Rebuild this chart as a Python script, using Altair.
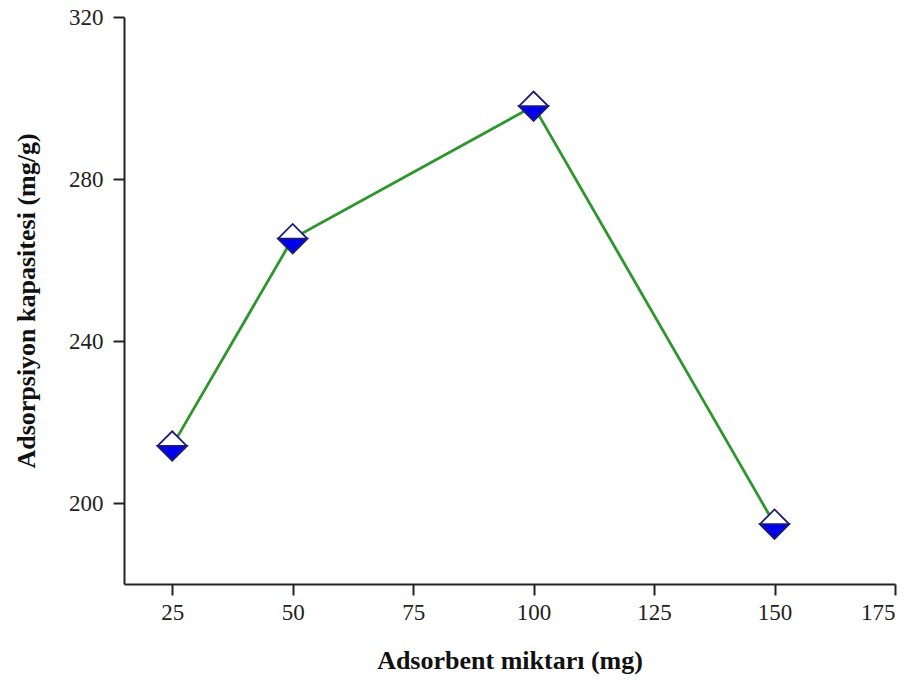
import altair as alt
import pandas as pd

amount = [25, 50, 100, 150]
capacity = [214.1, 265.3, 298.0, 194.8]

df = pd.DataFrame({"x": amount, "y": capacity})

xs = alt.Scale(domain=[15, 175], nice=False, zero=False)
ys = alt.Scale(domain=[180, 320], nice=False, zero=False)

X = alt.X("x:Q", scale=xs, title="Adsorbent miktarı (mg)",
          axis=alt.Axis(values=[25, 50, 75, 100, 125, 150, 175]))
Y = alt.Y("y:Q", scale=ys, title="Adsorpsiyon kapasitesi (mg/g)",
          axis=alt.Axis(values=[200, 240, 280, 320]))

line = alt.Chart(df).mark_line(color="#2f962f", strokeWidth=2.8).encode(x=X, y=Y)
diam = alt.Chart(df).mark_point(shape="diamond", size=850, filled=True, fill="white",
                                stroke="#1c1c78", strokeWidth=1.8, opacity=1).encode(x=X, y=Y)
half = alt.Chart(df).mark_point(shape="M-1,0L1,0L0,1Z", size=850, filled=True,
                                fill="#0000ee", stroke="#1c1c78", strokeWidth=1.8,
                                opacity=1).encode(x=X, y=Y)

chart = alt.layer(line, diam, half).properties(
    width=771, height=567,
    autosize=alt.AutoSizeParams(type="none"),
    padding={"left": 124, "top": 17, "right": 24, "bottom": 102},
).configure_view(stroke=None).configure_axis(
    grid=False, domainColor="#222222", domainWidth=2, tickColor="#222222",
    tickWidth=2, tickSize=11, labelFont="Liberation Serif", labelFontSize=23,
    labelColor="#222222", titleFont="Liberation Serif", titleFontSize=26,
    titleFontWeight="bold", titleColor="#111111", labelPadding=6,
).configure_axisY(titlePadding=29, labelPadding=10).configure_axisX(titlePadding=23)

chart.save("out.html", embed_options={"renderer": "svg", "actions": False})
